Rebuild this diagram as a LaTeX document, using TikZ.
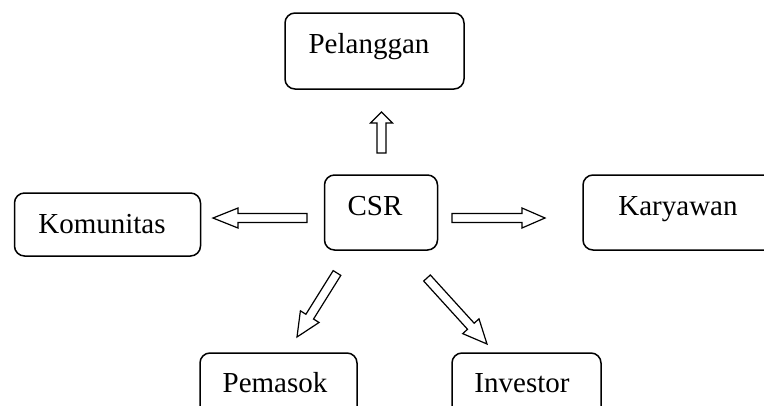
\documentclass[tikz,border=0pt]{standalone}
\usepackage{fontspec}
\setmainfont{Liberation Serif}
\usetikzlibrary{calc}

% hollow block arrow from #1 (tail) to #2 (tip), head length #3, head half width #4
\newcommand{\hollowarrow}[4]{%
  \coordinate (ha-base) at ($(#2)!#3pt!(#1)$);
  \draw[arrowline] ($(#1)!4.5pt!90:(#2)$) -- ($(ha-base)!4.5pt!90:(#2)$)
    -- ($(ha-base)!#4pt!90:(#2)$) -- (#2) -- ($(ha-base)!#4pt!-90:(#2)$)
    -- ($(ha-base)!4.5pt!-90:(#2)$) -- ($(#1)!4.5pt!-90:(#2)$) -- cycle;
}

\begin{document}
\begin{tikzpicture}[x=1pt, y=-1pt,
  box/.style={draw, line width=1.5pt, rounded corners=10pt, inner sep=0pt},
  lbl/.style={anchor=base, inner sep=0pt, font=\fontsize{29}{32}\selectfont},
  arrowline/.style={draw, line width=1.2pt, fill=white, line join=miter}]
\useasboundingbox (0,0) rectangle (764,405);
\clip (0,0) rectangle (764,405);

% Boxes
\node[box, minimum width=179pt, minimum height=76pt] (pel) at (374.5,51) {};
\node[box, minimum width=113pt, minimum height=75pt] (csr) at (381,212.5) {};
\node[box, minimum width=186pt, minimum height=63pt] (kom) at (107.5,224.5) {};
\node[box, minimum width=200pt, minimum height=75pt] (kar) at (683,212.5) {};
\node[box, minimum width=157pt, minimum height=80pt] (pem) at (278.5,393) {};
\node[box, minimum width=149pt, minimum height=80pt] (inv) at (526.5,393) {};

% Labels
\node[lbl] (pel-t) at (369,53) {Pelanggan};
\node[lbl] (csr-t) at (375,215) {CSR};
\node[lbl] (kom-t) at (102,233) {Komunitas};
\node[lbl] (kar-t) at (678,215) {Karyawan};
\node[lbl] (pem-t) at (275,392) {Pemasok};
\node[lbl] (inv-t) at (522,392) {Investor};

% Arrows
\coordinate (up-a) at (381.5,153);
\coordinate (up-b) at (381.5,112);
\coordinate (lf-a) at (307,218);
\coordinate (lf-b) at (213,218);
\coordinate (rt-a) at (452,218);
\coordinate (rt-b) at (545,218);
\coordinate (dl-a) at (337,273);
\coordinate (dl-b) at (297,337);
\coordinate (dr-a) at (427,278);
\coordinate (dr-b) at (487,344);

\hollowarrow{up-a}{up-b}{11}{11}
\hollowarrow{lf-a}{lf-b}{25}{10}
\hollowarrow{rt-a}{rt-b}{23}{10}
\hollowarrow{dl-a}{dl-b}{24}{11}
\hollowarrow{dr-a}{dr-b}{24}{11}
\end{tikzpicture}
\end{document}
